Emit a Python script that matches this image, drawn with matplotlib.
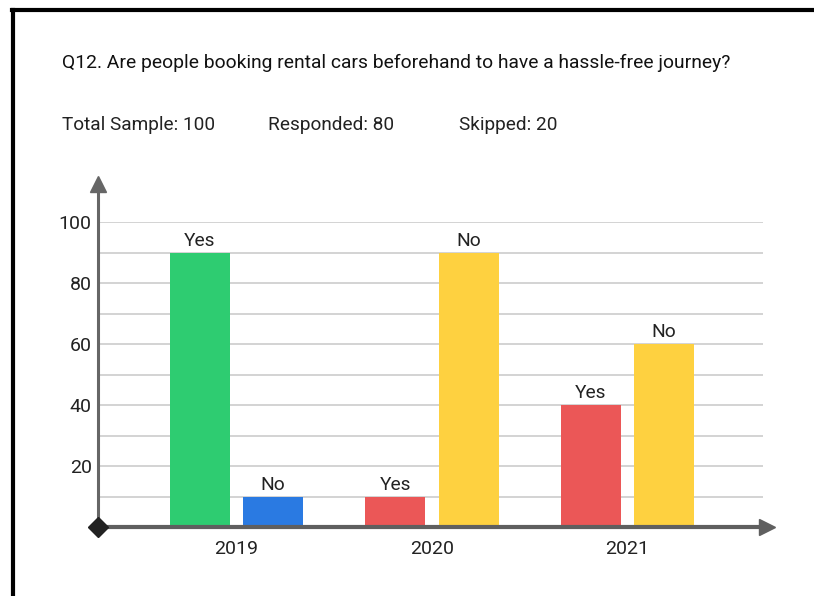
import numpy as np
import matplotlib
matplotlib.use("Agg")
import matplotlib.pyplot as plt
from matplotlib.lines import Line2D

plt.rcParams["font.family"] = ["Roboto", "DejaVu Sans"]

years = ["2019", "2020", "2021"]
yes_vals = [90, 10, 40]
no_vals = [10, 90, 60]
yes_colors = ["#2ecc71", "#eb5757", "#eb5757"]
no_colors = ["#2a7ae2", "#fed140", "#fed140"]

W, H = 814, 596
fig = plt.figure(figsize=(W / 100, H / 100), dpi=100)


def fx(px):
    return px / W


def fy(py):
    return 1 - py / H


# outer frame (left and top edges)
fig.add_artist(Line2D([fx(13.5), fx(13.5)], [fy(9.5), fy(600)], color="black", lw=3))
fig.add_artist(Line2D([fx(12), fx(820)], [fy(9.5), fy(9.5)], color="black", lw=3))

fig.text(fx(62), fy(63), "Q12. Are people booking rental cars beforehand to have a hassle-free journey?",
         fontsize=13.9, color="#111111", va="center", ha="left")
fig.text(fx(62), fy(125), "Total Sample: 100", fontsize=13.7, color="#222222", va="center")
fig.text(fx(268), fy(125), "Responded: 80", fontsize=13.7, color="#222222", va="center")
fig.text(fx(459), fy(125), "Skipped: 20", fontsize=13.7, color="#222222", va="center")

# plot area: x from 98 to 763 px, y from 527 (0) to 222 (100)
ax = fig.add_axes([fx(98), fy(527), fx(763 - 98), (527 - 222) / H])
ax.set_xlim(-0.708, 2.693)
ax.set_ylim(0, 100)

x = np.arange(len(years))
off = 0.187
bw = 0.307
bars_yes = ax.bar(x - off, yes_vals, bw, color=yes_colors, zorder=3)
bars_no = ax.bar(x + off, no_vals, bw, color=no_colors, zorder=3)

for b in bars_yes:
    ax.annotate("Yes", (b.get_x() + b.get_width() / 2, b.get_height()), xytext=(0, 2),
                textcoords="offset points", ha="center", va="bottom", fontsize=13.8, color="#222222")
for b in bars_no:
    ax.annotate("No", (b.get_x() + b.get_width() / 2, b.get_height()), xytext=(0, 2),
                textcoords="offset points", ha="center", va="bottom", fontsize=13.8, color="#222222")

ax.set_yticks([20, 40, 60, 80, 100])
ax.set_yticks([10, 30, 50, 70, 90], minor=True)
ax.grid(axis="y", which="both", color="#d0d0d0", lw=1.3, zorder=0)
ax.tick_params(axis="y", which="both", length=0, pad=4.5, labelsize=14, labelcolor="#222222")
ax.set_xticks(x)
ax.set_xticklabels(years)
ax.tick_params(axis="x", length=0, pad=9.5, labelsize=14, labelcolor="#222222")
for s in ax.spines.values():
    s.set_visible(False)

# custom axis lines with arrow heads
ax.plot([-0.708, -0.708], [0, 111.5], color="#666666", lw=2.2, clip_on=False, zorder=4,
        solid_capstyle="butt")
ax.plot([-0.708], [112.5], marker="^", ms=12, color="#666666", clip_on=False, zorder=4)
ax.plot([-0.708, 2.69], [0, 0], color="#5f5f5f", lw=3, clip_on=False, zorder=4,
        solid_capstyle="butt")
ax.plot([2.714], [0], marker=">", ms=12, color="#5f5f5f", clip_on=False, zorder=4)
ax.plot([-0.708], [0], marker="D", ms=10, color="#222222", clip_on=False, zorder=5)

fig.savefig("out.png", dpi=100, facecolor="white")
